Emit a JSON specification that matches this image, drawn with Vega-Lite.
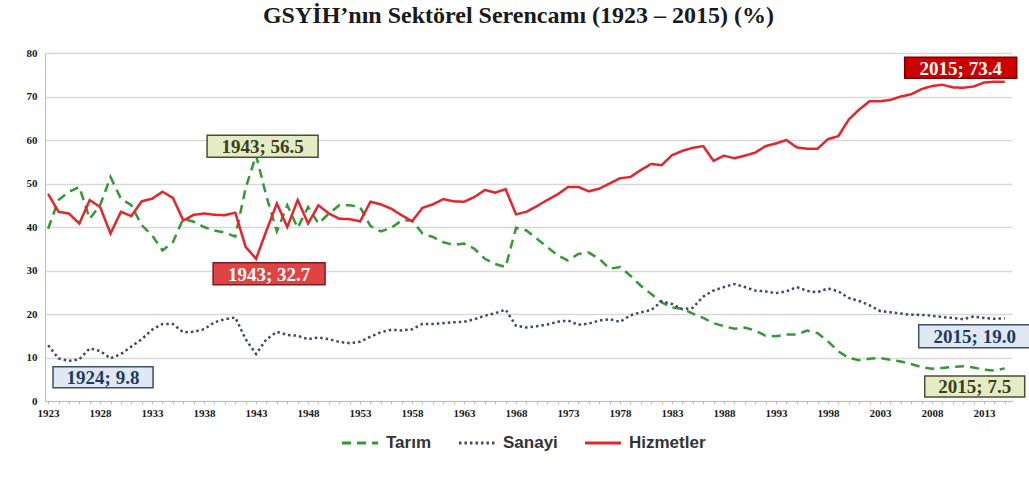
{
  "$schema": "https://vega.github.io/schema/vega-lite/v6.json",
  "width": 967,
  "height": 348,
  "autosize": {"type": "none"},
  "padding": {"left": 45, "top": 53, "right": 17, "bottom": 80},
  "background": "white",
  "title": {"text": "GSYİH’nın Sektörel Serencamı (1923 – 2015) (%)", "font": "Liberation Serif", "fontSize": 24, "fontWeight": "bold", "color": "#1a1a1a", "anchor": "middle", "offset": 19, "dx": -10},
  "config": {"view": {"stroke": null}},
  "datasets": {
    "series": [
      {"year":1923,"series":"Tarım","value":39.6},{"year":1924,"series":"Tarım","value":46.2},{"year":1925,"series":"Tarım","value":48.1},{"year":1926,"series":"Tarım","value":49.2},{"year":1927,"series":"Tarım","value":41.9},{"year":1928,"series":"Tarım","value":45.0},{"year":1929,"series":"Tarım","value":51.5},{"year":1930,"series":"Tarım","value":46.5},{"year":1931,"series":"Tarım","value":45.0},{"year":1932,"series":"Tarım","value":40.4},{"year":1933,"series":"Tarım","value":38.1},{"year":1934,"series":"Tarım","value":34.6},{"year":1935,"series":"Tarım","value":36.5},{"year":1936,"series":"Tarım","value":41.9},{"year":1937,"series":"Tarım","value":41.2},{"year":1938,"series":"Tarım","value":40.0},{"year":1939,"series":"Tarım","value":39.2},{"year":1940,"series":"Tarım","value":38.7},{"year":1941,"series":"Tarım","value":37.8},{"year":1942,"series":"Tarım","value":49.0},{"year":1943,"series":"Tarım","value":56.5},{"year":1944,"series":"Tarım","value":47.0},{"year":1945,"series":"Tarım","value":39.0},{"year":1946,"series":"Tarım","value":45.0},{"year":1947,"series":"Tarım","value":39.8},{"year":1948,"series":"Tarım","value":44.6},{"year":1949,"series":"Tarım","value":40.8},{"year":1950,"series":"Tarım","value":43.1},{"year":1951,"series":"Tarım","value":45.0},{"year":1952,"series":"Tarım","value":45.0},{"year":1953,"series":"Tarım","value":44.6},{"year":1954,"series":"Tarım","value":40.2},{"year":1955,"series":"Tarım","value":39.0},{"year":1956,"series":"Tarım","value":39.8},{"year":1957,"series":"Tarım","value":41.5},{"year":1958,"series":"Tarım","value":41.5},{"year":1959,"series":"Tarım","value":38.5},{"year":1960,"series":"Tarım","value":37.7},{"year":1961,"series":"Tarım","value":36.5},{"year":1962,"series":"Tarım","value":35.9},{"year":1963,"series":"Tarım","value":36.2},{"year":1964,"series":"Tarım","value":35.0},{"year":1965,"series":"Tarım","value":32.7},{"year":1966,"series":"Tarım","value":31.5},{"year":1967,"series":"Tarım","value":30.8},{"year":1968,"series":"Tarım","value":39.8},{"year":1969,"series":"Tarım","value":39.2},{"year":1970,"series":"Tarım","value":37.3},{"year":1971,"series":"Tarım","value":35.4},{"year":1972,"series":"Tarım","value":33.5},{"year":1973,"series":"Tarım","value":32.3},{"year":1974,"series":"Tarım","value":33.8},{"year":1975,"series":"Tarım","value":34.1},{"year":1976,"series":"Tarım","value":32.7},{"year":1977,"series":"Tarım","value":30.4},{"year":1978,"series":"Tarım","value":30.8},{"year":1979,"series":"Tarım","value":28.8},{"year":1980,"series":"Tarım","value":26.5},{"year":1981,"series":"Tarım","value":24.6},{"year":1982,"series":"Tarım","value":22.7},{"year":1983,"series":"Tarım","value":21.5},{"year":1984,"series":"Tarım","value":21.2},{"year":1985,"series":"Tarım","value":20.1},{"year":1986,"series":"Tarım","value":19.1},{"year":1987,"series":"Tarım","value":17.9},{"year":1988,"series":"Tarım","value":17.2},{"year":1989,"series":"Tarım","value":16.6},{"year":1990,"series":"Tarım","value":16.9},{"year":1991,"series":"Tarım","value":16.2},{"year":1992,"series":"Tarım","value":15.0},{"year":1993,"series":"Tarım","value":14.9},{"year":1994,"series":"Tarım","value":15.3},{"year":1995,"series":"Tarım","value":15.3},{"year":1996,"series":"Tarım","value":16.2},{"year":1997,"series":"Tarım","value":15.6},{"year":1998,"series":"Tarım","value":13.7},{"year":1999,"series":"Tarım","value":11.4},{"year":2000,"series":"Tarım","value":9.9},{"year":2001,"series":"Tarım","value":9.4},{"year":2002,"series":"Tarım","value":9.7},{"year":2003,"series":"Tarım","value":9.9},{"year":2004,"series":"Tarım","value":9.5},{"year":2005,"series":"Tarım","value":9.1},{"year":2006,"series":"Tarım","value":8.5},{"year":2007,"series":"Tarım","value":7.8},{"year":2008,"series":"Tarım","value":7.4},{"year":2009,"series":"Tarım","value":7.6},{"year":2010,"series":"Tarım","value":7.8},{"year":2011,"series":"Tarım","value":8.0},{"year":2012,"series":"Tarım","value":7.7},{"year":2013,"series":"Tarım","value":7.2},{"year":2014,"series":"Tarım","value":7.0},{"year":2015,"series":"Tarım","value":7.5},
      {"year":1923,"series":"Sanayi","value":12.8},{"year":1924,"series":"Sanayi","value":9.8},{"year":1925,"series":"Sanayi","value":9.2},{"year":1926,"series":"Sanayi","value":9.6},{"year":1927,"series":"Sanayi","value":12.1},{"year":1928,"series":"Sanayi","value":11.5},{"year":1929,"series":"Sanayi","value":9.8},{"year":1930,"series":"Sanayi","value":10.8},{"year":1931,"series":"Sanayi","value":12.5},{"year":1932,"series":"Sanayi","value":14.2},{"year":1933,"series":"Sanayi","value":16.4},{"year":1934,"series":"Sanayi","value":17.7},{"year":1935,"series":"Sanayi","value":17.7},{"year":1936,"series":"Sanayi","value":15.8},{"year":1937,"series":"Sanayi","value":15.9},{"year":1938,"series":"Sanayi","value":16.5},{"year":1939,"series":"Sanayi","value":18.1},{"year":1940,"series":"Sanayi","value":18.8},{"year":1941,"series":"Sanayi","value":19.2},{"year":1942,"series":"Sanayi","value":14.2},{"year":1943,"series":"Sanayi","value":10.8},{"year":1944,"series":"Sanayi","value":14.2},{"year":1945,"series":"Sanayi","value":15.9},{"year":1946,"series":"Sanayi","value":15.2},{"year":1947,"series":"Sanayi","value":15.0},{"year":1948,"series":"Sanayi","value":14.2},{"year":1949,"series":"Sanayi","value":14.6},{"year":1950,"series":"Sanayi","value":14.2},{"year":1951,"series":"Sanayi","value":13.6},{"year":1952,"series":"Sanayi","value":13.3},{"year":1953,"series":"Sanayi","value":13.6},{"year":1954,"series":"Sanayi","value":14.8},{"year":1955,"series":"Sanayi","value":15.8},{"year":1956,"series":"Sanayi","value":16.4},{"year":1957,"series":"Sanayi","value":16.2},{"year":1958,"series":"Sanayi","value":16.5},{"year":1959,"series":"Sanayi","value":17.7},{"year":1960,"series":"Sanayi","value":17.7},{"year":1961,"series":"Sanayi","value":17.9},{"year":1962,"series":"Sanayi","value":18.1},{"year":1963,"series":"Sanayi","value":18.2},{"year":1964,"series":"Sanayi","value":18.8},{"year":1965,"series":"Sanayi","value":19.6},{"year":1966,"series":"Sanayi","value":20.2},{"year":1967,"series":"Sanayi","value":21.0},{"year":1968,"series":"Sanayi","value":17.3},{"year":1969,"series":"Sanayi","value":16.9},{"year":1970,"series":"Sanayi","value":17.2},{"year":1971,"series":"Sanayi","value":17.6},{"year":1972,"series":"Sanayi","value":18.2},{"year":1973,"series":"Sanayi","value":18.5},{"year":1974,"series":"Sanayi","value":17.5},{"year":1975,"series":"Sanayi","value":17.8},{"year":1976,"series":"Sanayi","value":18.5},{"year":1977,"series":"Sanayi","value":18.8},{"year":1978,"series":"Sanayi","value":18.2},{"year":1979,"series":"Sanayi","value":19.7},{"year":1980,"series":"Sanayi","value":20.4},{"year":1981,"series":"Sanayi","value":20.9},{"year":1982,"series":"Sanayi","value":22.9},{"year":1983,"series":"Sanayi","value":22.3},{"year":1984,"series":"Sanayi","value":21.1},{"year":1985,"series":"Sanayi","value":21.4},{"year":1986,"series":"Sanayi","value":24.0},{"year":1987,"series":"Sanayi","value":25.4},{"year":1988,"series":"Sanayi","value":26.2},{"year":1989,"series":"Sanayi","value":26.9},{"year":1990,"series":"Sanayi","value":26.2},{"year":1991,"series":"Sanayi","value":25.4},{"year":1992,"series":"Sanayi","value":25.2},{"year":1993,"series":"Sanayi","value":24.8},{"year":1994,"series":"Sanayi","value":25.2},{"year":1995,"series":"Sanayi","value":26.2},{"year":1996,"series":"Sanayi","value":25.3},{"year":1997,"series":"Sanayi","value":25.0},{"year":1998,"series":"Sanayi","value":25.9},{"year":1999,"series":"Sanayi","value":25.2},{"year":2000,"series":"Sanayi","value":23.7},{"year":2001,"series":"Sanayi","value":23.0},{"year":2002,"series":"Sanayi","value":22.0},{"year":2003,"series":"Sanayi","value":20.7},{"year":2004,"series":"Sanayi","value":20.4},{"year":2005,"series":"Sanayi","value":20.1},{"year":2006,"series":"Sanayi","value":19.8},{"year":2007,"series":"Sanayi","value":19.8},{"year":2008,"series":"Sanayi","value":19.6},{"year":2009,"series":"Sanayi","value":19.3},{"year":2010,"series":"Sanayi","value":19.1},{"year":2011,"series":"Sanayi","value":18.8},{"year":2012,"series":"Sanayi","value":19.4},{"year":2013,"series":"Sanayi","value":19.1},{"year":2014,"series":"Sanayi","value":18.9},{"year":2015,"series":"Sanayi","value":19.0},
      {"year":1923,"series":"Hizmetler","value":47.6},{"year":1924,"series":"Hizmetler","value":43.5},{"year":1925,"series":"Hizmetler","value":43.1},{"year":1926,"series":"Hizmetler","value":40.8},{"year":1927,"series":"Hizmetler","value":46.2},{"year":1928,"series":"Hizmetler","value":44.6},{"year":1929,"series":"Hizmetler","value":38.5},{"year":1930,"series":"Hizmetler","value":43.5},{"year":1931,"series":"Hizmetler","value":42.5},{"year":1932,"series":"Hizmetler","value":45.9},{"year":1933,"series":"Hizmetler","value":46.5},{"year":1934,"series":"Hizmetler","value":48.1},{"year":1935,"series":"Hizmetler","value":46.7},{"year":1936,"series":"Hizmetler","value":41.5},{"year":1937,"series":"Hizmetler","value":42.8},{"year":1938,"series":"Hizmetler","value":43.1},{"year":1939,"series":"Hizmetler","value":42.8},{"year":1940,"series":"Hizmetler","value":42.7},{"year":1941,"series":"Hizmetler","value":43.3},{"year":1942,"series":"Hizmetler","value":35.4},{"year":1943,"series":"Hizmetler","value":32.7},{"year":1944,"series":"Hizmetler","value":39.2},{"year":1945,"series":"Hizmetler","value":45.4},{"year":1946,"series":"Hizmetler","value":40.0},{"year":1947,"series":"Hizmetler","value":46.2},{"year":1948,"series":"Hizmetler","value":40.8},{"year":1949,"series":"Hizmetler","value":45.0},{"year":1950,"series":"Hizmetler","value":43.1},{"year":1951,"series":"Hizmetler","value":41.9},{"year":1952,"series":"Hizmetler","value":41.8},{"year":1953,"series":"Hizmetler","value":41.3},{"year":1954,"series":"Hizmetler","value":45.8},{"year":1955,"series":"Hizmetler","value":45.2},{"year":1956,"series":"Hizmetler","value":44.2},{"year":1957,"series":"Hizmetler","value":42.7},{"year":1958,"series":"Hizmetler","value":41.3},{"year":1959,"series":"Hizmetler","value":44.4},{"year":1960,"series":"Hizmetler","value":45.2},{"year":1961,"series":"Hizmetler","value":46.4},{"year":1962,"series":"Hizmetler","value":45.9},{"year":1963,"series":"Hizmetler","value":45.8},{"year":1964,"series":"Hizmetler","value":46.9},{"year":1965,"series":"Hizmetler","value":48.5},{"year":1966,"series":"Hizmetler","value":47.9},{"year":1967,"series":"Hizmetler","value":48.7},{"year":1968,"series":"Hizmetler","value":42.9},{"year":1969,"series":"Hizmetler","value":43.5},{"year":1970,"series":"Hizmetler","value":44.8},{"year":1971,"series":"Hizmetler","value":46.2},{"year":1972,"series":"Hizmetler","value":47.5},{"year":1973,"series":"Hizmetler","value":49.2},{"year":1974,"series":"Hizmetler","value":49.2},{"year":1975,"series":"Hizmetler","value":48.2},{"year":1976,"series":"Hizmetler","value":48.8},{"year":1977,"series":"Hizmetler","value":50.0},{"year":1978,"series":"Hizmetler","value":51.2},{"year":1979,"series":"Hizmetler","value":51.5},{"year":1980,"series":"Hizmetler","value":53.1},{"year":1981,"series":"Hizmetler","value":54.5},{"year":1982,"series":"Hizmetler","value":54.2},{"year":1983,"series":"Hizmetler","value":56.5},{"year":1984,"series":"Hizmetler","value":57.5},{"year":1985,"series":"Hizmetler","value":58.2},{"year":1986,"series":"Hizmetler","value":58.6},{"year":1987,"series":"Hizmetler","value":55.2},{"year":1988,"series":"Hizmetler","value":56.4},{"year":1989,"series":"Hizmetler","value":55.8},{"year":1990,"series":"Hizmetler","value":56.4},{"year":1991,"series":"Hizmetler","value":57.1},{"year":1992,"series":"Hizmetler","value":58.6},{"year":1993,"series":"Hizmetler","value":59.2},{"year":1994,"series":"Hizmetler","value":60.0},{"year":1995,"series":"Hizmetler","value":58.3},{"year":1996,"series":"Hizmetler","value":58.0},{"year":1997,"series":"Hizmetler","value":58.0},{"year":1998,"series":"Hizmetler","value":60.2},{"year":1999,"series":"Hizmetler","value":60.9},{"year":2000,"series":"Hizmetler","value":64.7},{"year":2001,"series":"Hizmetler","value":67.0},{"year":2002,"series":"Hizmetler","value":68.9},{"year":2003,"series":"Hizmetler","value":68.9},{"year":2004,"series":"Hizmetler","value":69.2},{"year":2005,"series":"Hizmetler","value":70.0},{"year":2006,"series":"Hizmetler","value":70.5},{"year":2007,"series":"Hizmetler","value":71.7},{"year":2008,"series":"Hizmetler","value":72.4},{"year":2009,"series":"Hizmetler","value":72.7},{"year":2010,"series":"Hizmetler","value":72.1},{"year":2011,"series":"Hizmetler","value":72.0},{"year":2012,"series":"Hizmetler","value":72.3},{"year":2013,"series":"Hizmetler","value":73.2},{"year":2014,"series":"Hizmetler","value":73.4},{"year":2015,"series":"Hizmetler","value":73.4}
    ],
    "notes": [
      {"series":"Tarım","year":1943,"value":56.5,"label":"1943; 56.5"},
      {"series":"Hizmetler","year":1943,"value":32.7,"label":"1943; 32.7"},
      {"series":"Sanayi","year":1924,"value":9.8,"label":"1924; 9.8"},
      {"series":"Hizmetler","year":2015,"value":73.4,"label":"2015; 73.4"},
      {"series":"Sanayi","year":2015,"value":19.0,"label":"2015; 19.0"},
      {"series":"Tarım","year":2015,"value":7.5,"label":"2015; 7.5"}
    ]
  },
  "encoding": {
    "x": {"field": "year", "type": "quantitative", "scale": {"domain": [1922.7, 2015.7], "nice": false, "zero": false},
      "axis": {"title": null, "grid": false, "format": "d",
        "values": [1923,1924,1925,1926,1927,1928,1929,1930,1931,1932,1933,1934,1935,1936,1937,1938,1939,1940,1941,1942,1943,1944,1945,1946,1947,1948,1949,1950,1951,1952,1953,1954,1955,1956,1957,1958,1959,1960,1961,1962,1963,1964,1965,1966,1967,1968,1969,1970,1971,1972,1973,1974,1975,1976,1977,1978,1979,1980,1981,1982,1983,1984,1985,1986,1987,1988,1989,1990,1991,1992,1993,1994,1995,1996,1997,1998,1999,2000,2001,2002,2003,2004,2005,2006,2007,2008,2009,2010,2011,2012,2013,2014,2015],
        "labelExpr": "(datum.value - 1923) % 5 === 0 ? datum.label : ''",
        "labelOverlap": false, "labelFlush": false,
        "domainColor": "#bfbfbf", "tickColor": "#bfbfbf", "tickSize": 3,
        "labelFont": "Liberation Serif", "labelFontWeight": "bold", "labelFontSize": 11, "labelColor": "#1a1a1a", "labelPadding": 3}},
    "y": {"field": "value", "type": "quantitative", "scale": {"domain": [0, 80], "nice": false},
      "axis": {"title": null, "values": [0,10,20,30,40,50,60,70,80], "grid": true, "gridColor": "#d9d9d9", "gridWidth": 1.5,
        "ticks": false, "domainColor": "#bfbfbf",
        "labelFont": "Liberation Serif", "labelFontWeight": "bold", "labelFontSize": 11, "labelColor": "#1a1a1a", "labelPadding": 8}}
  },
  "layer": [
    {
      "data": {"name": "series"},
      "mark": {"type": "line", "strokeWidth": 2.5},
      "encoding": {
        "color": {"field": "series", "type": "nominal",
          "scale": {"domain": ["Tarım", "Sanayi", "Hizmetler"], "range": ["#339933", "#3b4a6b", "#e3262b"]},
          "legend": {"title": null, "orient": "none", "legendX": 295, "legendY": 370, "direction": "horizontal",
            "symbolType": "stroke", "symbolSize": 1300, "symbolStrokeWidth": 3,
            "labelFont": "Liberation Sans", "labelFontSize": 17, "labelFontWeight": "bold", "labelColor": "#333333",
            "columnPadding": 20, "labelOffset": 6}},
        "strokeDash": {"field": "series", "type": "nominal",
          "scale": {"domain": ["Tarım", "Sanayi", "Hizmetler"], "range": [[9, 6], [2.5, 3], [1, 0]]},
          "legend": {"title": null, "orient": "none", "legendX": 295, "legendY": 370, "direction": "horizontal",
            "symbolType": "stroke", "symbolSize": 1300, "symbolStrokeWidth": 3,
            "labelFont": "Liberation Sans", "labelFontSize": 17, "labelFontWeight": "bold", "labelColor": "#333333",
            "columnPadding": 20, "labelOffset": 6}}
      }
    },
    {"data": {"name": "notes"}, "transform": [{"filter": "datum.label === '1943; 56.5'"}],
      "mark": {"type": "point", "shape": "M-1,-0.198H1V0.198H-1Z", "size": 12321, "filled": true, "fill": "#e4ecc4", "stroke": "#4d4d33", "strokeWidth": 1.5, "opacity": 1, "xOffset": 6.5, "yOffset": -9}},
    {"data": {"name": "notes"}, "transform": [{"filter": "datum.label === '1943; 56.5'"}],
      "mark": {"type": "text", "font": "Liberation Serif", "fontSize": 19, "fontWeight": "bold", "color": "#3d3d24", "align": "center", "baseline": "middle", "xOffset": 6.5, "yOffset": -8},
      "encoding": {"text": {"field": "label"}}},
    {"data": {"name": "notes"}, "transform": [{"filter": "datum.label === '1943; 32.7'"}],
      "mark": {"type": "point", "shape": "M-1,-0.196H1V0.196H-1Z", "size": 12544, "filled": true, "fill": "#e04343", "stroke": "#7a1f1f", "strokeWidth": 1.5, "opacity": 1, "xOffset": 13, "yOffset": 15}},
    {"data": {"name": "notes"}, "transform": [{"filter": "datum.label === '1943; 32.7'"}],
      "mark": {"type": "text", "font": "Liberation Serif", "fontSize": 19, "fontWeight": "bold", "color": "#ffffff", "align": "center", "baseline": "middle", "xOffset": 13, "yOffset": 16},
      "encoding": {"text": {"field": "label"}}},
    {"data": {"name": "notes"}, "transform": [{"filter": "datum.label === '1924; 9.8'"}],
      "mark": {"type": "point", "shape": "M-1,-0.21H1V0.21H-1Z", "size": 10000, "filled": true, "fill": "#dfe8f3", "stroke": "#3c4f66", "strokeWidth": 1.5, "opacity": 1, "xOffset": 44.5, "yOffset": 19}},
    {"data": {"name": "notes"}, "transform": [{"filter": "datum.label === '1924; 9.8'"}],
      "mark": {"type": "text", "font": "Liberation Serif", "fontSize": 19, "fontWeight": "bold", "color": "#1f3a5f", "align": "center", "baseline": "middle", "xOffset": 44.5, "yOffset": 20},
      "encoding": {"text": {"field": "label"}}},
    {"data": {"name": "notes"}, "transform": [{"filter": "datum.label === '2015; 73.4'"}],
      "mark": {"type": "point", "shape": "M-1,-0.1875H1V0.1875H-1Z", "size": 12544, "filled": true, "fill": "#cc0000", "stroke": "#7a0000", "strokeWidth": 1.5, "opacity": 1, "xOffset": -44, "yOffset": -14}},
    {"data": {"name": "notes"}, "transform": [{"filter": "datum.label === '2015; 73.4'"}],
      "mark": {"type": "text", "font": "Liberation Serif", "fontSize": 19, "fontWeight": "bold", "color": "#ffffff", "align": "center", "baseline": "middle", "xOffset": -44, "yOffset": -13},
      "encoding": {"text": {"field": "label"}}},
    {"data": {"name": "notes"}, "transform": [{"filter": "datum.label === '2015; 19.0'"}],
      "mark": {"type": "point", "shape": "M-1,-0.205H1V0.205H-1Z", "size": 12544, "filled": true, "fill": "#dfe8f3", "stroke": "#3c4f66", "strokeWidth": 1.5, "opacity": 1, "xOffset": -30, "yOffset": 18}},
    {"data": {"name": "notes"}, "transform": [{"filter": "datum.label === '2015; 19.0'"}],
      "mark": {"type": "text", "font": "Liberation Serif", "fontSize": 19, "fontWeight": "bold", "color": "#1f3a5f", "align": "center", "baseline": "middle", "xOffset": -30, "yOffset": 19},
      "encoding": {"text": {"field": "label"}}},
    {"data": {"name": "notes"}, "transform": [{"filter": "datum.label === '2015; 7.5'"}],
      "mark": {"type": "point", "shape": "M-1,-0.21H1V0.21H-1Z", "size": 10000, "filled": true, "fill": "#e4ecc4", "stroke": "#4d4d33", "strokeWidth": 1.5, "opacity": 1, "xOffset": -30, "yOffset": 18}},
    {"data": {"name": "notes"}, "transform": [{"filter": "datum.label === '2015; 7.5'"}],
      "mark": {"type": "text", "font": "Liberation Serif", "fontSize": 19, "fontWeight": "bold", "color": "#3d3d24", "align": "center", "baseline": "middle", "xOffset": -30, "yOffset": 19},
      "encoding": {"text": {"field": "label"}}}
  ]
}
